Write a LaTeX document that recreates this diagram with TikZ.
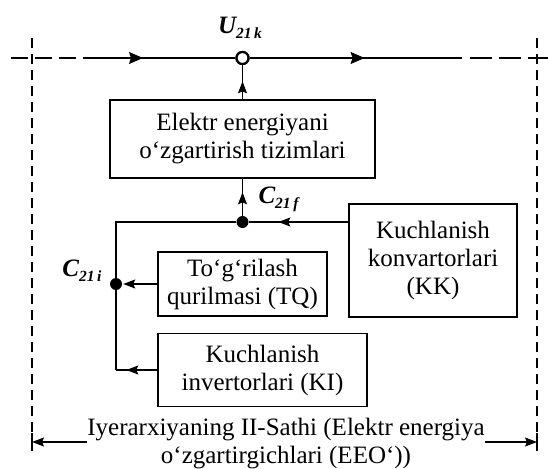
\documentclass[tikz,border=0pt]{standalone}
\usepackage{fontspec}
\setmainfont{Liberation Serif}
\usetikzlibrary{arrows.meta,decorations.markings,calc}

% bold italic symbol with a lowered bold italic index
\newcommand\symsub[3]{{\fontsize{25}{28}\selectfont\bfseries\itshape #1}\raisebox{-5pt}{\fontsize{15.5}{16}\selectfont\bfseries\itshape #2\,#3}}

\tikzset{
  box/.style={draw, line width=1.4pt, inner sep=0pt, align=center,
              font=\fontsize{25}{28}\selectfont},
  wire/.style={line width=1.1pt},
  bus/.style={line width=2.8pt},
  smalltip/.style={-{Stealth[length=12pt,width=9pt,inset=2pt]}},
  midtip/.style={postaction={decorate}, decoration={markings,
      mark=at position #1 with {\arrow{Stealth[length=12pt,width=9pt,inset=2pt]}}}},
  bustip/.style={postaction={decorate}, decoration={markings,
      mark=at position #1 with {\arrow[line width=1pt]{Stealth[length=14pt,width=12pt,inset=2pt]}}}},
  junction/.style={circle, fill, inner sep=0pt, minimum size=12pt},
  terminal/.style={circle, draw, fill=white, line width=2.2pt, inner sep=0pt, minimum size=12pt},
  frame/.style={line width=1.1pt, dash pattern=on 10pt off 6pt},
  caption/.style={inner sep=0pt, font=\fontsize{25}{28}\selectfont},
}

\begin{document}
\begin{tikzpicture}[x=1pt,y=-1pt]
\useasboundingbox (0,0) rectangle (548,468);

% level boundaries
\coordinate (ftl) at (32,38);  \coordinate (fbl) at (32,452);
\coordinate (ftr) at (537,38); \coordinate (fbr) at (537,452);
\draw[frame] (ftl) -- (fbl);
\draw[frame] (ftr) -- (fbr);

% main bus with the output terminal
\node[terminal] (U) at (242.5,58) {};
\coordinate (b0) at (11,58);  \coordinate (b1) at (85,58);
\coordinate (b2) at (462,58); \coordinate (b3) at (470,58);
\coordinate (b4) at (548,58);
\draw[bus, dash pattern=on 17pt off 7pt] (b0) -- (b1);
\draw[bus, bustip=58pt] (b1) -- (U.west);
\draw[bus, bustip=115pt] (U.east) -- (b2);
\draw[bus, dash pattern=on 22pt off 7pt] (b3) -- (b4);
\node[terminal] at (U) {};
\node (Ul) at (240,28) {\symsub{U}{21}{k}};

% blocks
\node[box, minimum width=265pt, minimum height=78pt] (conv) at (242.5,139)
  {Elektr energiyani\\o‘zgartirish tizimlari};
\node[box, minimum width=168pt, minimum height=113pt] (kk) at (433,260.5)
  {Kuchlanish\\konvartorlari\\(KK)};
\node[box, minimum width=169pt, minimum height=64pt] (tq) at (242.5,284)
  {To‘g‘rilash\\qurilmasi (TQ)};
\node[box, minimum width=209pt, minimum height=73pt] (ki) at (262.5,370)
  {Kuchlanish\\invertorlari (KI)};

% junctions
\node[junction] (jf) at (242.5,222) {};
\node[junction] (ji) at (116,284) {};
\coordinate (cTop) at (116,222);
\coordinate (cBot) at (116,370);

% connections
\draw[wire, midtip=18pt] (conv.north) -- (U.south);
\draw[wire, midtip=23.5pt] (jf) -- (conv.south);
\draw[wire, midtip=70pt] (kk.west |- jf) -- (jf);
\draw[wire] (jf) -- (cTop) -- (cBot);
\draw[wire, smalltip, shorten >=1pt] (tq.west) -- (ji);
\draw[wire, midtip=31pt] (ki.west) -- (cBot);

\node[anchor=west] (Cf) at (255,199) {\symsub{C}{21}{f}};
\node[anchor=east] (Ci) at (105,271) {\symsub{C}{21}{i}};

% level caption with its span arrows
\node[caption, anchor=base] (lv1) at (286,435) {Iyerarxiyaning II-Sathi (Elektr energiya};
\node[caption, anchor=base] (lv2) at (286,463) {o‘zgartirgichlari (EEO‘))};
\coordinate (dl) at (32,442);
\coordinate (dr) at (537,442);
\draw[wire, smalltip] (lv1.west |- dl) -- (dl);
\draw[wire, smalltip] (lv1.east |- dr) -- (dr);
\draw[wire] ($(dl)+(0,-9)$) -- ($(dl)+(0,9)$);
\draw[wire] ($(dr)+(0,-9)$) -- ($(dr)+(0,9)$);
\end{tikzpicture}
\end{document}
